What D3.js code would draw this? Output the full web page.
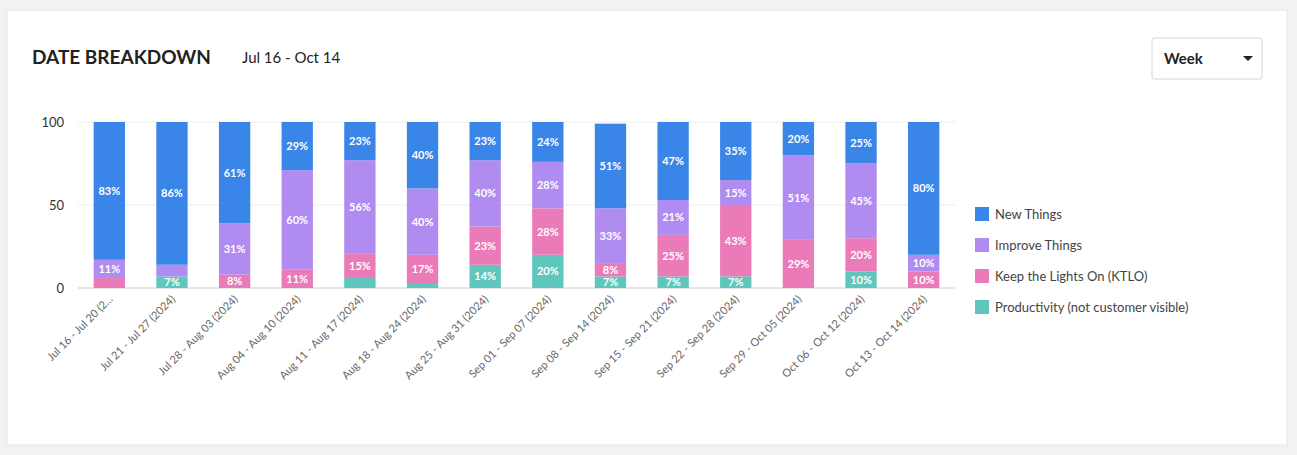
<!DOCTYPE html>
<html><head><meta charset="utf-8">
<script src="https://cdn.jsdelivr.net/npm/d3@7"></script>
<style>
body{margin:0;background:#f2f2f2;font-family:Lato,"Open Sans",sans-serif;}
</style></head><body>
<script>
var weeks = ["Jul 16 - Jul 20 (2...", "Jul 21 - Jul 27 (2024)", "Jul 28 - Aug 03 (2024)", "Aug 04 - Aug 10 (2024)",
  "Aug 11 - Aug 17 (2024)", "Aug 18 - Aug 24 (2024)", "Aug 25 - Aug 31 (2024)", "Sep 01 - Sep 07 (2024)",
  "Sep 08 - Sep 14 (2024)", "Sep 15 - Sep 21 (2024)", "Sep 22 - Sep 28 (2024)", "Sep 29 - Oct 05 (2024)",
  "Oct 06 - Oct 12 (2024)", "Oct 13 - Oct 14 (2024)"];
var productivity = [0, 7, 0, 0, 6, 3, 14, 20, 7, 7, 7, 0, 10, 0];
var ktlo         = [6, 0, 8, 11, 15, 17, 23, 28, 8, 25, 43, 29, 20, 10];
var improve      = [11, 7, 31, 60, 56, 40, 40, 28, 33, 21, 15, 51, 45, 10];
var newThings    = [83, 86, 61, 29, 23, 40, 23, 24, 51, 47, 35, 20, 25, 80];
var seriesNames = ["Productivity (not customer visible)", "Keep the Lights On (KTLO)", "Improve Things", "New Things"];
var colors = ["#5ec6bc", "#ea7ab8", "#b18cf0", "#3a86e8"];
var yTicks = [0, 50, 100];

var W = 1297, H = 455;
var svg = d3.select("body").append("svg").attr("width", W).attr("height", H);
svg.append("rect").attr("x", 7).attr("y", 10).attr("width", 1280).attr("height", 435)
  .attr("fill", "#fff").attr("stroke", "#e6e6e6");

svg.append("text").attr("x", 32).attr("y", 64).attr("font-size", 19).attr("font-weight", 700)
  .attr("fill", "#222").text("DATE BREAKDOWN");
svg.append("text").attr("x", 242).attr("y", 63).attr("font-size", 15).attr("fill", "#222").text("Jul 16 - Oct 14");

// dropdown
svg.append("rect").attr("x", 1152).attr("y", 38).attr("width", 110).attr("height", 41).attr("rx", 2)
  .attr("fill", "#fff").attr("stroke", "#d6d6d6");
svg.append("text").attr("x", 1164).attr("y", 64).attr("font-size", 15).attr("font-weight", 700)
  .attr("fill", "#222").text("Week");
svg.append("path").attr("d", "M1243,56 l10,0 l-5,5 z").attr("fill", "#222");

var rows = weeks.map(function(w, i) {
  return {week: w, v: [productivity[i], ktlo[i], improve[i], newThings[i]]};
});
var stack = d3.stack().keys([0, 1, 2, 3]).value(function(d, k) { return d.v[k]; });
var layers = stack(rows);

var x = d3.scaleBand().domain(weeks).range([78, 955]).paddingInner(0.5).paddingOuter(0.25);
var y = d3.scaleLinear().domain([0, 100]).range([288, 122]);

var g = svg.append("g");
g.selectAll(".grid").data(yTicks).enter().append("line")
  .attr("x1", 78).attr("x2", 955).attr("y1", y).attr("y2", y)
  .attr("stroke", function(d) { return d === 0 ? "#cfcfcf" : "#ececec"; });
g.selectAll(".yl").data(yTicks).enter().append("text")
  .attr("x", 64).attr("y", function(d) { return y(d) + 5; }).attr("text-anchor", "end")
  .attr("font-size", 13).attr("fill", "#333").text(function(d) { return d; });

layers.forEach(function(layer, k) {
  var lg = g.append("g");
  lg.selectAll("rect").data(layer).enter().append("rect")
    .attr("x", function(d) { return x(d.data.week); })
    .attr("width", x.bandwidth())
    .attr("y", function(d) { return y(d[1]); })
    .attr("height", function(d) { return y(d[0]) - y(d[1]); })
    .attr("fill", colors[k]);
  lg.selectAll("text").data(layer.filter(function(d) { return d[1] - d[0] >= 7 && !(k === 2 && d[1] - d[0] < 8); }))
    .enter().append("text")
    .attr("x", function(d) { return x(d.data.week) + x.bandwidth() / 2; })
    .attr("y", function(d) { return (y(d[0]) + y(d[1])) / 2 + 4; })
    .attr("text-anchor", "middle").attr("font-size", 11).attr("font-weight", 700).attr("fill", "#fff")
    .text(function(d) { return Math.round(d[1] - d[0]) + "%"; });
});

g.selectAll(".xl").data(weeks).enter().append("text")
  .attr("transform", function(d) { return "translate(" + (x(d) + x.bandwidth() / 2 + 4) + ",300) rotate(-45)"; })
  .attr("text-anchor", "end").attr("font-size", 11).attr("fill", "#666").text(function(d) { return d; });

// legend (top-down order)
var legendOrder = [3, 2, 1, 0];
var leg = svg.selectAll(".leg").data(legendOrder).enter().append("g")
  .attr("transform", function(d, i) { return "translate(975," + (207 + i * 31) + ")"; });
leg.append("rect").attr("width", 14).attr("height", 14).attr("fill", function(d) { return colors[d]; });
leg.append("text").attr("x", 20).attr("y", 12).attr("font-size", 13).attr("fill", "#444")
  .text(function(d) { return seriesNames[d]; });
</script>
</body></html>
